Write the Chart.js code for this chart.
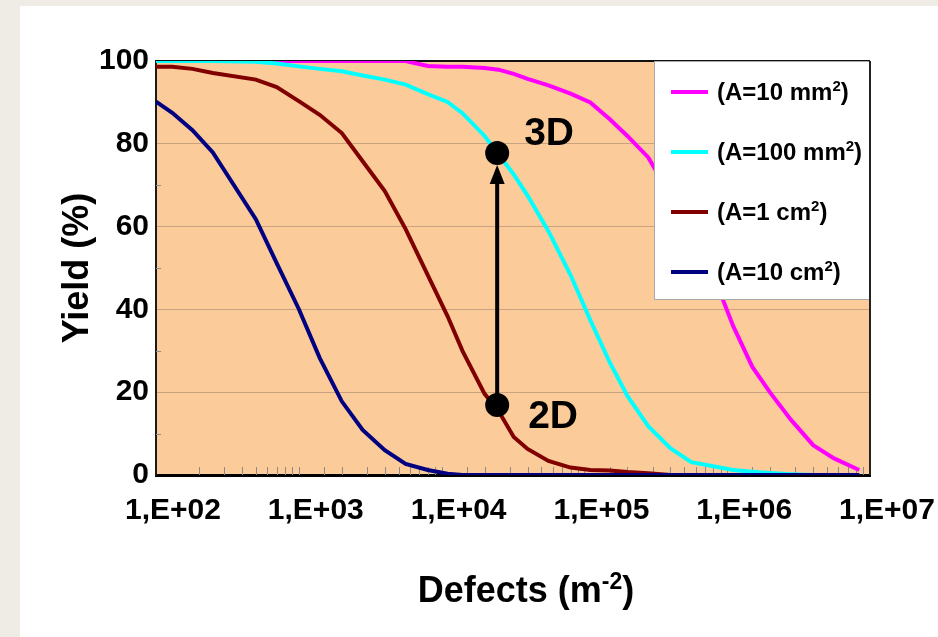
<!DOCTYPE html>
<html>
<head>
<meta charset="utf-8">
<script src="https://cdn.jsdelivr.net/npm/chart.js@4.4.0/dist/chart.umd.min.js"></script>
<style>
  html, body { margin: 0; padding: 0; background: #fff; }
  #wrap { width: 938px; height: 637px; }
</style>
</head>
<body>
<div id="wrap"><canvas id="yieldChart" width="938" height="637"></canvas></div>
<script>
// defect density (m^-2), shared by all four curves
const defects = [100, 130, 180, 250, 500, 700, 1000, 1400, 2000, 2800, 4000, 5600, 8000,
    11000, 14000, 20000, 25000, 32000, 40000, 56000, 80000,
    110000, 150000, 200000, 280000, 400000, 560000, 800000,
    1100000, 1500000, 2000000, 2800000, 4000000, 5600000, 8400000];

// yield (%)
const yield10mm2 = [100, 100, 100, 100, 100, 100, 100, 100, 100, 100, 100, 100, 98.8,
    98.6, 98.6, 98.3, 97.9, 96.9, 95.7, 94.1, 92.1,
    90.0, 86.0, 81.9, 76.7, 67.5, 58.9, 48.3,
    36.0, 26.1, 19.9, 13.3, 7.2, 4.0, 1.2];
const yield100mm2 = [100, 100, 100, 100, 99.8, 99.4, 98.7, 98.1, 97.5, 96.5, 95.5, 94.3, 92.0,
    90.1, 87.4, 81.9, 77.5, 72.6, 67.5, 58.9, 48.3,
    37.4, 27.3, 19.1, 11.8, 6.5, 3.1, 2.1,
    1.2, 0.8, 0.5, 0.2, 0, 0, 0];
const yield1cm2 = [98.6, 98.6, 98.1, 97.1, 95.5, 93.7, 90.3, 87.0, 82.6, 75.8, 68.6, 59.4, 48.3,
    38.4, 30.0, 19.6, 15.5, 9.2, 6.3, 3.4, 1.8,
    1.2, 1.1, 0.7, 0.4, 0, 0, 0,
    0, 0, 0, 0, 0, 0, 0];
const yield10cm2 = [90.2, 87.5, 83.3, 77.9, 61.8, 51.2, 40.1, 28.3, 17.8, 10.9, 6.0, 2.7, 1.2,
    0.3, 0, 0, 0, 0, 0, 0, 0,
    0, 0, 0, 0, 0, 0, 0,
    0, 0, 0, 0, 0, 0, 0];

const seriesLabels = ['(A=10 mm²)', '(A=100 mm²)', '(A=1 cm²)', '(A=10 cm²)'];

// 2D -> 3D marker
const markDefects = 24500;
const markYield2D = 16.9;
const markYield3D = 77.8;

const FONT = '"Liberation Sans", Arial, Helvetica, sans-serif';

// split "m⁻²" style text into plain / superscript pieces
function supParts(str) {
    return str.split(/([⁻²]+)/).filter(s => s).map(s => {
        if (/[⁻²]/.test(s)) return { t: s.replace('⁻', '-').replace('²', '2'), sup: true };
        return { t: s, sup: false };
    });
}

function drawRich(ctx, str, x, y, size, align) {
    const parts = supParts(str);
    const supSize = Math.round(size * 0.64);
    let total = 0;
    parts.forEach(p => {
        ctx.font = 'bold ' + (p.sup ? supSize : size) + 'px ' + FONT;
        p.w = ctx.measureText(p.t).width;
        total += p.w;
    });
    let cx = align === 'center' ? x - total / 2 : x;
    ctx.textAlign = 'left';
    ctx.textBaseline = 'alphabetic';
    parts.forEach(p => {
        ctx.font = 'bold ' + (p.sup ? supSize : size) + 'px ' + FONT;
        ctx.fillText(p.t, cx, p.sup ? y - size * 0.36 : y);
        cx += p.w;
    });
}

const decor = {
    id: 'decor',
    beforeDraw(chart) {
        const ctx = chart.ctx, a = chart.chartArea;
        ctx.save();
        ctx.fillStyle = '#EFECE5';
        ctx.fillRect(0, 0, chart.width, chart.height);
        ctx.fillStyle = '#FFFFFF';
        ctx.fillRect(20, 6, chart.width - 20, chart.height - 6);
        ctx.fillStyle = '#FCCB9A';
        ctx.fillRect(a.left, a.top, a.right - a.left, a.bottom - a.top);
        ctx.restore();
    },
    beforeDatasetsDraw(chart) {
        const ctx = chart.ctx, a = chart.chartArea;
        const xs = chart.scales.x, ys = chart.scales.y;
        ctx.save();
        // top border
        ctx.strokeStyle = '#111';
        ctx.lineWidth = 2;
        ctx.beginPath();
        ctx.moveTo(a.left, a.top);
        ctx.lineTo(a.right, a.top);
        ctx.stroke();
        // small inside tick marks
        ctx.strokeStyle = '#8C8C8C';
        ctx.lineWidth = 1;
        xs.ticks.forEach(t => {
            if (t.value <= xs.min || t.value >= xs.max) return;
            const px = Math.round(xs.getPixelForValue(t.value)) + 0.5;
            ctx.beginPath();
            ctx.moveTo(px, a.bottom);
            ctx.lineTo(px, a.bottom - 8);
            ctx.stroke();
        });
        ys.ticks.forEach(t => {
            if (t.value % 20 === 0) return;
            const py = Math.round(ys.getPixelForValue(t.value)) + 0.5;
            ctx.beginPath();
            ctx.moveTo(a.left, py);
            ctx.lineTo(a.left + 5, py);
            ctx.stroke();
        });
        ctx.restore();
    },
    afterDatasetsDraw(chart) {
        const ctx = chart.ctx, a = chart.chartArea;
        const xs = chart.scales.x, ys = chart.scales.y;
        ctx.save();

        // arrow from 2D up to 3D
        const mx = xs.getPixelForValue(markDefects);
        const y2 = ys.getPixelForValue(markYield2D);
        const y3 = ys.getPixelForValue(markYield3D);
        const r = 12;
        ctx.strokeStyle = '#000';
        ctx.fillStyle = '#000';
        ctx.lineWidth = 4;
        ctx.beginPath();
        ctx.moveTo(mx, y2);
        ctx.lineTo(mx, y3 + r + 16);
        ctx.stroke();
        ctx.beginPath();
        ctx.moveTo(mx, y3 + r);
        ctx.lineTo(mx - 7.5, y3 + r + 19);
        ctx.lineTo(mx + 7.5, y3 + r + 19);
        ctx.closePath();
        ctx.fill();
        [y2, y3].forEach(py => {
            ctx.beginPath();
            ctx.arc(mx, py, r, 0, Math.PI * 2);
            ctx.fill();
        });
        ctx.font = 'bold 39px ' + FONT;
        ctx.textAlign = 'left';
        ctx.textBaseline = 'alphabetic';
        ctx.fillText('3D', mx + 27, y3 - 8);
        ctx.fillText('2D', mx + 31, y2 + 23);

        // legend box in the top right corner of the plot
        const lw = 216, lh = 239;
        const lx = a.right - lw, ly = a.top;
        ctx.fillStyle = '#FFFFFF';
        ctx.fillRect(lx, ly, lw, lh);
        ctx.strokeStyle = '#A8A8A8';
        ctx.lineWidth = 1;
        ctx.strokeRect(lx + 0.5, ly + 0.5, lw - 1, lh - 1);
        chart.data.datasets.forEach((ds, i) => {
            const ry = ly + 31 + i * 60;
            ctx.strokeStyle = ds.borderColor;
            ctx.lineWidth = 4;
            ctx.beginPath();
            ctx.moveTo(lx + 17, ry);
            ctx.lineTo(lx + 54, ry);
            ctx.stroke();
            ctx.fillStyle = '#000';
            drawRich(ctx, ds.label, lx + 63, ry + 8, 24, 'left');
        });

        // right border
        ctx.strokeStyle = '#222';
        ctx.lineWidth = 2;
        ctx.beginPath();
        ctx.moveTo(a.right, a.top);
        ctx.lineTo(a.right, a.bottom);
        ctx.stroke();

        // axis titles
        ctx.fillStyle = '#000';
        drawRich(ctx, 'Defects (m⁻²)', 526, 602, 36, 'center');
        ctx.translate(88, (a.top + a.bottom) / 2);
        ctx.rotate(-Math.PI / 2);
        ctx.font = 'bold 36px ' + FONT;
        ctx.textAlign = 'center';
        ctx.textBaseline = 'alphabetic';
        ctx.fillText('Yield (%)', 0, 0);
        ctx.restore();
    }
};

const colors = ['#FF00FF', '#00FFFF', '#800000', '#000080'];
const datasets = [yield10mm2, yield100mm2, yield1cm2, yield10cm2].map((ys, i) => ({
    label: seriesLabels[i],
    data: defects.map((d, j) => ({ x: d, y: ys[j] })),
    borderColor: colors[i],
    backgroundColor: colors[i],
    borderWidth: 4,
    pointRadius: 0,
    tension: 0,
    fill: false,
    order: 4 - i
}));

const tickFont = { family: FONT, size: 30, weight: 'bold' };

new Chart(document.getElementById('yieldChart'), {
    type: 'line',
    data: { datasets },
    options: {
        responsive: false,
        animation: false,
        layout: { padding: { left: 0, top: 61, right: 68, bottom: 0 } },
        plugins: {
            legend: { display: false },
            tooltip: { enabled: false }
        },
        scales: {
            x: {
                type: 'logarithmic',
                min: 100,
                max: 10000000,
                grid: { display: false, drawTicks: false },
                border: { display: true, color: '#000', width: 3 },
                ticks: {
                    autoSkip: false,
                    maxRotation: 0,
                    padding: 18,
                    labelOffset: 17,
                    color: '#000',
                    font: tickFont,
                    callback: v => {
                        const e = Math.log10(v);
                        if (Math.abs(e - Math.round(e)) > 1e-9) return '';
                        return '1,E+' + String(Math.round(e)).padStart(2, '0');
                    }
                },
                afterFit: s => { s.height = 162; }
            },
            y: {
                min: 0,
                max: 100,
                grid: {
                    drawTicks: false,
                    lineWidth: 1,
                    color: c => (c.tick && c.tick.value % 20 === 0 && c.tick.value > 0 && c.tick.value < 100)
                        ? '#C9A37F' : 'rgba(0,0,0,0)'
                },
                border: { display: true, color: '#1a1a1a', width: 2 },
                ticks: {
                    stepSize: 10,
                    autoSkip: false,
                    padding: 7,
                    color: '#000',
                    font: tickFont,
                    callback: v => (v % 20 === 0 ? v : '')
                },
                afterFit: s => { s.width = 156; }
            }
        }
    },
    plugins: [decor]
});
</script>
</body>
</html>
